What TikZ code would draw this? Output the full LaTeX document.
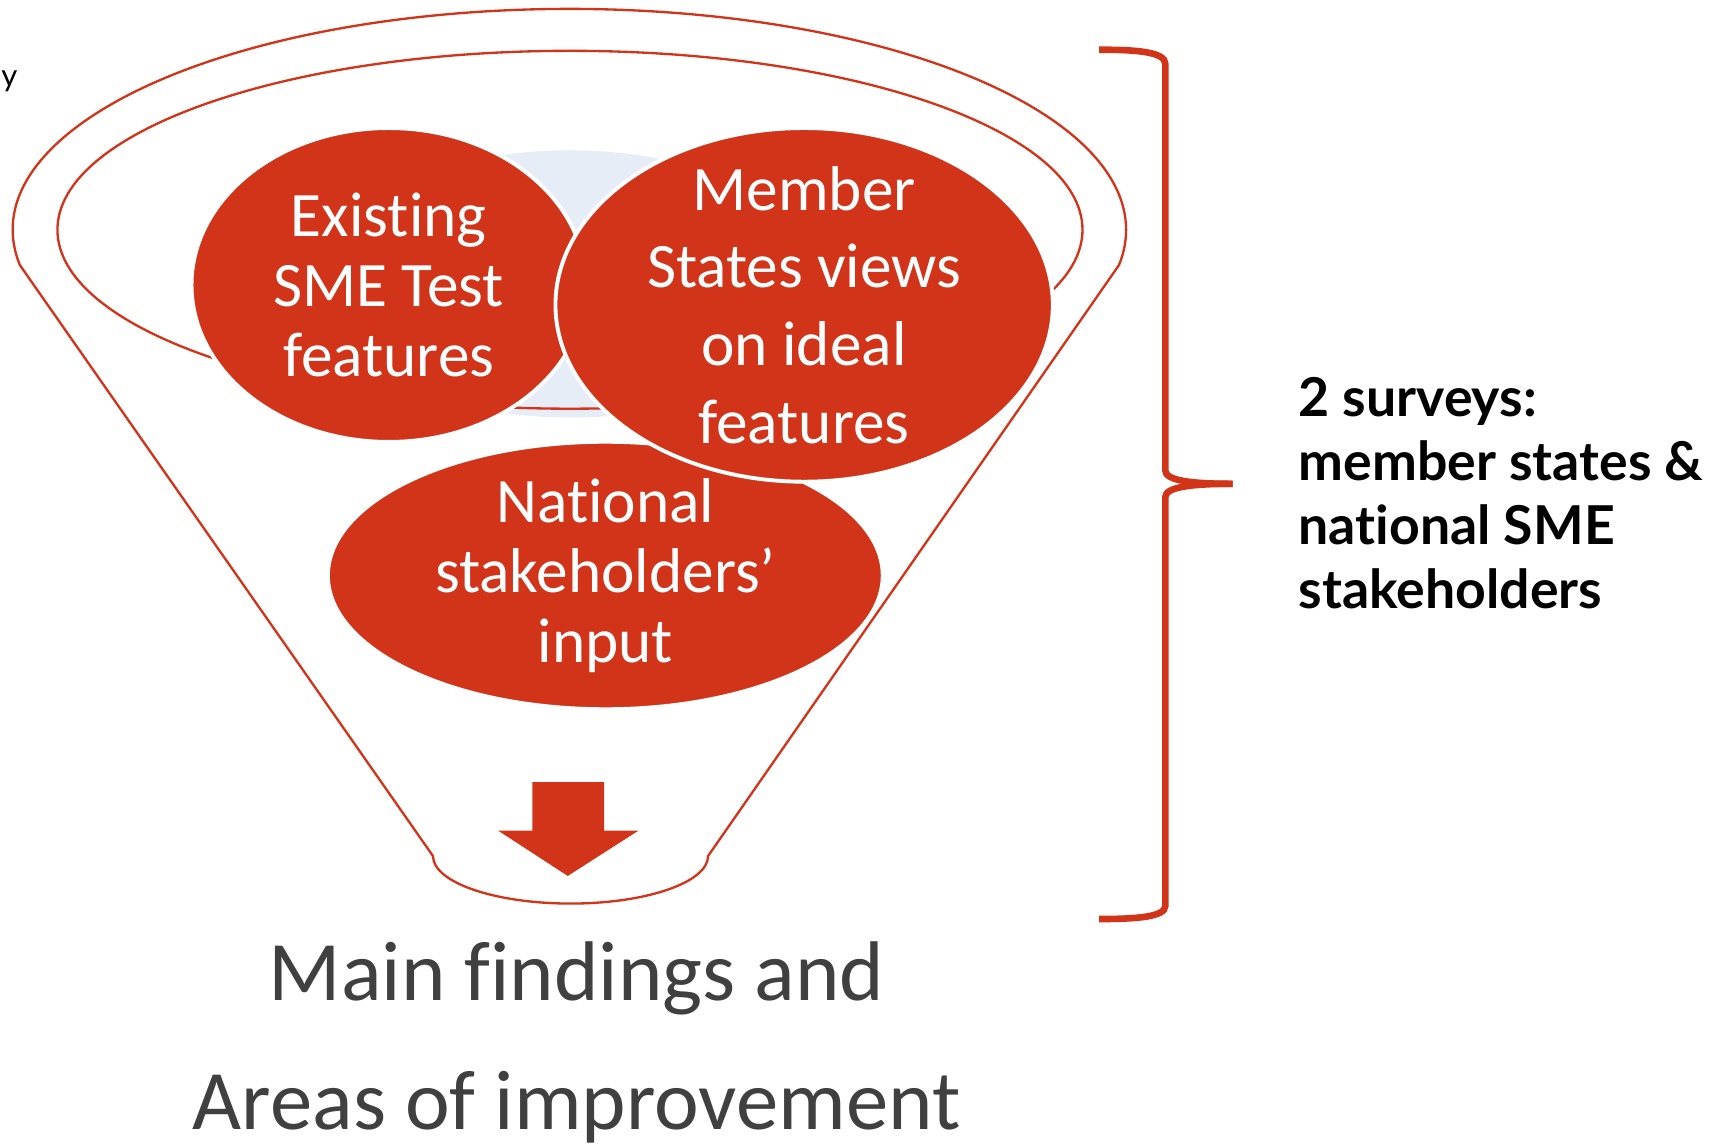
\documentclass[tikz,border=0pt]{standalone}
\usepackage{fontspec}
\setmainfont{Carlito}[Ligatures={NoCommon}]
\newfontfamily\latofont{Lato}[Ligatures={NoCommon}]
\usetikzlibrary{shapes.geometric}

\definecolor{funnelred}{RGB}{210,52,26}
\definecolor{rimblue}{RGB}{230,237,247}
\definecolor{findgray}{RGB}{64,64,64}

\tikzset{
    funnelline/.style={draw=funnelred,line width=0.6pt},
    bracket/.style={draw=funnelred,line width=1.7pt},
}

\begin{document}
\begin{tikzpicture}[x=0.01cm,y=0.01cm]

    \useasboundingbox (0,0) rectangle (1568,-1039);

    % Funnel top and body %
    \fill[rimblue] (516,-257) ellipse [x radius=230, y radius=121];
    \draw[funnelline] (18,-240) arc[start angle=189.2, end angle=-9.2, x radius=504, y radius=200]
        -- (641,-775) arc[start angle=0, end angle=-180, x radius=124.5, y radius=43] -- cycle;
    \draw[funnelline] (516,-208) ellipse [x radius=464, y radius=162];

    \begin{scope}[every node/.style={ellipse,fill=funnelred,draw=white,line width=1pt,inner sep=0pt}]
        \node[minimum width=5.02cm, minimum height=2.42cm] (national) at (548,-521) {};
        \node[minimum width=3.57cm, minimum height=2.84cm] (existing) at (352,-258) {};
        \node[minimum width=4.50cm, minimum height=3.20cm] (member) at (728,-276) {};
    \end{scope}

    \begin{scope}[every node/.style={text=white,align=center,inner sep=0pt}]
        \node[font=\fontsize{16.3}{18.1}\selectfont] (existingtext) at (existing) {Existing\\SME Test\\features};
        \node[font=\fontsize{16.3}{20}\selectfont] (membertext) at (member) {Member\\States views\\on ideal\\features};
        \node[font=\fontsize{16.3}{18.1}\selectfont] (nationaltext) at (national) {National\\stakeholders’\\input};
    \end{scope}

    % Down arrow in the funnel neck %
    \fill[funnelred] (482,-708) -- (547,-708) -- (547,-752) -- (578,-752) -- (514,-793)
        -- (451,-752) -- (482,-752) -- cycle;

    \node[font=\fontsize{21.8}{33.3}\selectfont, text=findgray, align=center, inner sep=0pt] (findings)
        at (522,-944) {Main findings and\\Areas of improvement};

    % Brace on the right %
    \draw[bracket] (995,-45) .. controls (1030,-45) and (1055,-47) .. (1055,-58) -- (1055,-426)
        .. controls (1055,-435) and (1078,-438) .. (1116,-438);
    \draw[bracket] (1116,-438) .. controls (1078,-438) and (1055,-441) .. (1055,-450) -- (1055,-820)
        .. controls (1055,-830) and (1030,-832) .. (995,-832);

    \node[font=\latofont\bfseries\fontsize{13.8}{16.5}\selectfont, align=left, anchor=north west, inner sep=0pt]
        (surveys) at (1175,-341) {2 surveys:\\member states \&\\national SME\\stakeholders};

    \node[font=\latofont\fontsize{8}{9}\selectfont, anchor=base west, inner sep=0pt] (cutoff) at (0.5,-78) {y};

\end{tikzpicture}
\end{document}
